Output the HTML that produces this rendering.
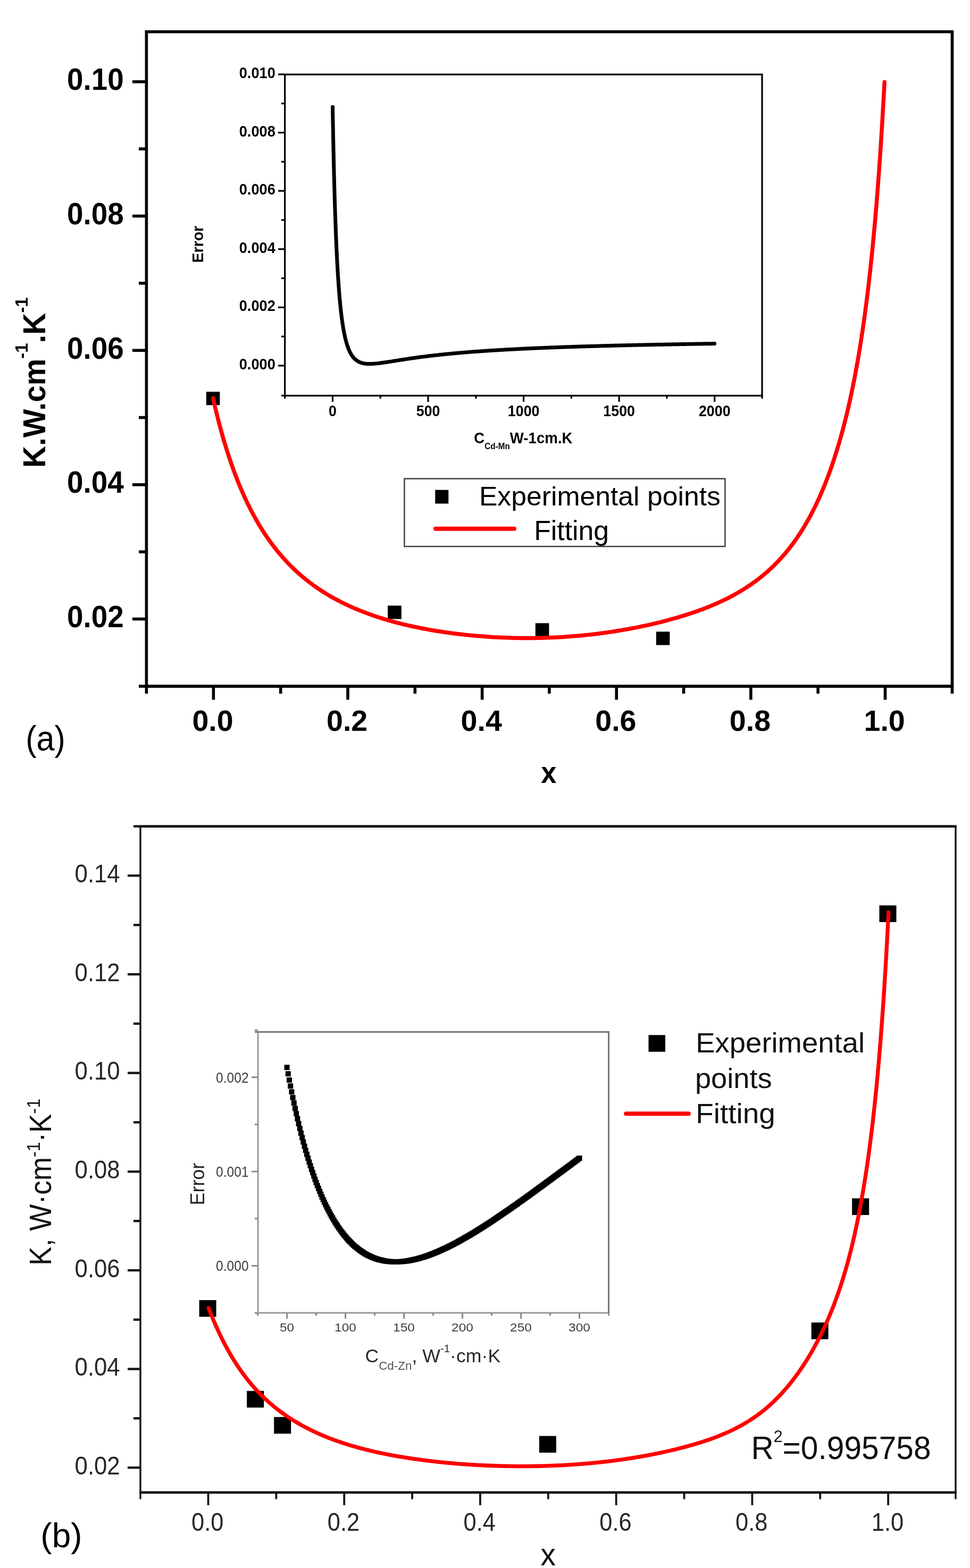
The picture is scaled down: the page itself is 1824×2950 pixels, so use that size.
<!DOCTYPE html>
<html><head><meta charset="utf-8"><title>Thermal conductivity fitting</title>
<style>html,body{margin:0;padding:0;background:#fff;overflow:hidden;}svg{display:block;}</style></head>
<body>
<svg width="1824" height="2950" viewBox="0 0 1824 2950">
<rect width="1824" height="2950" fill="#fff"/>
<g stroke="#000" stroke-width="5.6" fill="none">
<path d="M275.4 1291.1V59.8H1790.5V1291.1H275.4Z" stroke-linejoin="miter"/>
<path d="M249 153.8H275.4"/>
<path d="M249 406.5H275.4"/>
<path d="M249 659.2H275.4"/>
<path d="M249 911.9H275.4"/>
<path d="M249 1164.6H275.4"/>
<path d="M261 280.15H275.4"/>
<path d="M261 532.85H275.4"/>
<path d="M261 785.55H275.4"/>
<path d="M261 1038.25H275.4"/>
<path d="M261 1291.1H275.4"/>
<path d="M401.4 1291.1V1316.5"/>
<path d="M654.02 1291.1V1316.5"/>
<path d="M906.64 1291.1V1316.5"/>
<path d="M1159.26 1291.1V1316.5"/>
<path d="M1411.88 1291.1V1316.5"/>
<path d="M1664.5 1291.1V1316.5"/>
<path d="M527.71 1291.1V1305"/>
<path d="M780.33 1291.1V1305"/>
<path d="M1032.95 1291.1V1305"/>
<path d="M1285.57 1291.1V1305"/>
<path d="M1538.19 1291.1V1305"/>
<path d="M275.4 1291.1V1305"/><path d="M1790.5 1291.1V1305"/>
</g>
<g stroke="#000" stroke-width="3.2" fill="none">
<path d="M535.7 744.3V140.2H1433V744.3H535.7Z"/>
<path d="M523 687.9H535.7"/>
<path d="M523 578.3H535.7"/>
<path d="M523 468.7H535.7"/>
<path d="M523 359.1H535.7"/>
<path d="M523 249.5H535.7"/>
<path d="M523 139.9H535.7"/>
<path d="M529 633.1H535.7"/>
<path d="M529 523.5H535.7"/>
<path d="M529 413.9H535.7"/>
<path d="M529 304.3H535.7"/>
<path d="M529 194.7H535.7"/>
<path d="M529 744.3H535.7"/>
<path d="M625.5 744.3V756"/>
<path d="M805.05 744.3V756"/>
<path d="M984.6 744.3V756"/>
<path d="M1164.15 744.3V756"/>
<path d="M1343.7 744.3V756"/>
<path d="M715.27 744.3V750"/>
<path d="M894.83 744.3V750"/>
<path d="M1074.38 744.3V750"/>
<path d="M1253.92 744.3V750"/>
<path d="M535.7 744.3V750"/><path d="M1433 744.3V750"/>
</g>
<polyline points="625.5,201.35 625.59,206.58 625.68,211.73 625.77,216.81 625.86,221.82 625.95,226.76 626.04,231.64 626.13,236.45 626.22,241.19 626.31,245.88 626.4,250.49 626.49,255.05 626.58,259.55 626.67,263.99 626.76,268.37 626.85,272.69 626.94,276.96 627.03,281.17 627.12,285.32 627.21,289.43 627.3,293.48 627.39,297.47 627.48,301.42 627.56,305.32 627.65,309.16 627.74,312.96 627.83,316.71 627.92,320.41 628.01,324.07 628.1,327.68 628.19,331.25 628.28,334.77 628.37,338.25 628.46,341.68 628.55,345.08 628.64,348.43 628.73,351.74 628.82,355.01 628.91,358.24 629,361.43 629.09,364.59 629.18,367.7 629.27,370.78 629.36,373.82 629.45,376.83 629.54,379.8 629.63,382.73 629.72,385.63 629.81,388.5 629.9,391.33 629.99,394.13 630.08,396.9 630.17,399.63 630.26,402.33 630.35,405.01 630.44,407.65 630.53,410.26 630.62,412.84 630.71,415.39 630.8,417.91 630.89,420.41 630.98,422.87 631.07,425.31 631.16,427.72 631.25,430.1 631.34,432.46 631.43,434.79 631.51,437.1 631.6,439.38 631.69,441.63 631.78,443.86 631.87,446.06 631.96,448.24 632.05,450.4 632.14,452.53 632.23,454.64 632.32,456.73 632.41,458.79 632.5,460.84 632.59,462.86 632.68,464.85 632.86,468.79 633.22,476.43 633.58,483.75 633.94,490.77 634.3,497.5 634.66,503.96 635.02,510.16 635.38,516.12 635.74,521.84 636.1,527.34 636.46,532.62 636.82,537.71 637.18,542.6 637.54,547.3 637.9,551.83 638.26,556.19 638.62,560.39 638.98,564.44 639.34,568.34 639.7,572.1 640.06,575.73 640.42,579.23 640.78,582.6 641.14,585.86 641.5,589 641.86,592.04 642.22,594.97 642.58,597.8 642.94,600.53 643.3,603.18 643.66,605.73 644.02,608.2 644.38,610.59 644.74,612.9 645.11,615.13 645.47,617.29 645.83,619.38 646.19,621.4 646.55,623.36 646.91,625.26 647.27,627.09 647.63,628.87 647.99,630.59 648.35,632.26 648.71,633.88 649.07,635.44 649.43,636.96 649.79,638.43 650.15,639.85 650.51,641.24 650.87,642.58 651.23,643.87 651.59,645.13 651.95,646.35 652.31,647.54 652.67,648.69 653.03,649.8 653.39,650.89 653.75,651.94 654.11,652.95 654.47,653.94 654.83,654.9 655.19,655.83 655.55,656.74 655.91,657.61 656.27,658.46 656.63,659.29 656.99,660.09 657.35,660.87 657.71,661.63 658.07,662.37 658.43,663.08 658.79,663.77 659.15,664.44 659.51,665.1 659.87,665.73 660.23,666.35 660.59,666.95 660.95,667.53 661.31,668.09 661.67,668.64 662.03,669.17 662.39,669.69 662.75,670.19 663.11,670.68 663.47,671.15 663.83,671.61 664.19,672.06 664.55,672.5 664.91,672.92 665.27,673.33 665.63,673.72 665.99,674.11 666.35,674.48 666.71,674.85 667.07,675.2 667.43,675.54 667.79,675.88 668.15,676.2 668.51,676.51 668.87,676.82 669.23,677.11 669.59,677.4 669.95,677.67 670.31,677.94 670.67,678.21 671.03,678.46 671.39,678.7 671.75,678.94 672.11,679.17 672.47,679.4 672.83,679.61 673.19,679.82 673.55,680.03 673.91,680.23 674.27,680.42 674.63,680.6 674.99,680.78 675.35,680.95 675.71,681.12 676.07,681.28 676.43,681.44 676.79,681.59 677.15,681.74 677.51,681.88 677.87,682.01 678.23,682.15 678.59,682.27 678.95,682.4 679.31,682.51 679.67,682.63 680.04,682.74 680.4,682.84 680.76,682.94 681.12,683.04 681.48,683.14 681.84,683.23 682.2,683.31 682.56,683.4 682.92,683.48 683.28,683.55 683.64,683.63 684,683.7 684.36,683.76 684.72,683.83 685.08,683.89 685.44,683.95 685.8,684 686.16,684.05 686.52,684.1 686.88,684.15 687.24,684.19 687.6,684.23 687.96,684.27 688.32,684.31 688.68,684.35 689.04,684.38 689.4,684.41 689.76,684.44 690.12,684.46 690.48,684.49 690.84,684.51 691.2,684.53 691.56,684.54 691.92,684.56 692.28,684.57 692.64,684.59 693,684.6 693.36,684.61 693.72,684.61 694.08,684.62 694.44,684.62 694.8,684.62 695.16,684.62 695.52,684.62 695.88,684.62 696.24,684.62 696.6,684.61 696.96,684.61 697.32,684.6 699.12,684.54 700.91,684.45 702.71,684.34 704.5,684.2 706.3,684.05 708.09,683.87 709.89,683.68 711.68,683.48 713.48,683.26 715.27,683.04 717.07,682.8 718.87,682.55 720.66,682.3 722.46,682.04 724.25,681.78 726.05,681.51 727.84,681.24 729.64,680.96 731.43,680.68 733.23,680.4 735.03,680.12 736.82,679.83 738.62,679.55 740.41,679.26 742.21,678.98 744,678.69 745.8,678.41 747.59,678.12 749.39,677.84 751.19,677.56 752.98,677.28 754.78,677 756.57,676.72 758.37,676.44 760.16,676.17 761.96,675.89 763.75,675.62 765.55,675.35 767.34,675.08 769.14,674.82 770.94,674.55 772.73,674.29 774.53,674.03 776.32,673.78 778.12,673.52 779.91,673.27 781.71,673.02 783.5,672.77 785.3,672.53 787.1,672.29 788.89,672.05 790.69,671.81 792.48,671.57 794.28,671.34 796.07,671.11 797.87,670.88 799.66,670.65 801.46,670.43 803.25,670.2 805.05,669.98 806.85,669.77 808.64,669.55 810.44,669.34 812.23,669.13 814.03,668.92 815.82,668.71 817.62,668.51 819.41,668.31 821.21,668.11 823,667.91 824.8,667.71 826.6,667.52 828.39,667.32 830.19,667.13 831.98,666.95 833.78,666.76 835.57,666.58 837.37,666.39 839.16,666.21 840.96,666.03 842.76,665.86 844.55,665.68 846.35,665.51 848.14,665.34 849.94,665.17 851.73,665 853.53,664.83 855.32,664.67 857.12,664.5 858.91,664.34 860.71,664.18 862.51,664.02 864.3,663.87 866.1,663.71 867.89,663.56 869.69,663.41 871.48,663.26 873.28,663.11 875.07,662.96 876.87,662.81 878.67,662.67 880.46,662.52 882.26,662.38 884.05,662.24 885.85,662.1 887.64,661.96 889.44,661.83 891.23,661.69 893.03,661.56 894.83,661.43 896.62,661.29 898.42,661.16 900.21,661.03 902.01,660.91 903.8,660.78 905.6,660.65 907.39,660.53 909.19,660.41 910.98,660.28 912.78,660.16 914.58,660.04 916.37,659.92 918.17,659.81 919.96,659.69 921.76,659.57 923.55,659.46 925.35,659.35 927.14,659.23 928.94,659.12 930.74,659.01 932.53,658.9 934.33,658.79 936.12,658.68 937.92,658.58 939.71,658.47 941.51,658.37 943.3,658.26 945.1,658.16 946.89,658.06 948.69,657.95 950.49,657.85 952.28,657.75 954.08,657.65 955.87,657.56 957.67,657.46 959.46,657.36 961.26,657.27 963.05,657.17 964.85,657.08 966.64,656.98 968.44,656.89 970.24,656.8 972.03,656.71 973.83,656.62 975.62,656.53 977.42,656.44 979.21,656.35 981.01,656.26 982.8,656.18 984.6,656.09 986.4,656 988.19,655.92 989.99,655.84 991.78,655.75 993.58,655.67 995.37,655.59 997.17,655.5 998.96,655.42 1000.76,655.34 1002.56,655.26 1004.35,655.18 1006.15,655.11 1007.94,655.03 1009.74,654.95 1011.53,654.87 1013.33,654.8 1015.12,654.72 1016.92,654.65 1018.71,654.57 1020.51,654.5 1022.31,654.42 1024.1,654.35 1025.9,654.28 1027.69,654.21 1029.49,654.14 1031.28,654.07 1033.08,653.99 1034.87,653.92 1036.67,653.86 1038.46,653.79 1040.26,653.72 1042.06,653.65 1043.85,653.58 1045.65,653.52 1047.44,653.45 1049.24,653.38 1051.03,653.32 1052.83,653.25 1054.62,653.19 1056.42,653.12 1058.22,653.06 1060.01,653 1061.81,652.93 1063.6,652.87 1065.4,652.81 1067.19,652.75 1068.99,652.69 1070.78,652.63 1072.58,652.57 1074.38,652.51 1076.17,652.45 1077.97,652.39 1079.76,652.33 1081.56,652.27 1083.35,652.21 1085.15,652.15 1086.94,652.1 1088.74,652.04 1090.53,651.98 1092.33,651.93 1094.13,651.87 1095.92,651.82 1097.72,651.76 1099.51,651.71 1101.31,651.65 1103.1,651.6 1104.9,651.54 1106.69,651.49 1108.49,651.44 1110.29,651.39 1112.08,651.33 1113.88,651.28 1115.67,651.23 1117.47,651.18 1119.26,651.13 1121.06,651.08 1122.85,651.03 1124.65,650.98 1126.44,650.93 1128.24,650.88 1130.04,650.83 1131.83,650.78 1133.63,650.73 1135.42,650.68 1137.22,650.63 1139.01,650.59 1140.81,650.54 1142.6,650.49 1144.4,650.44 1146.2,650.4 1147.99,650.35 1149.79,650.31 1151.58,650.26 1153.38,650.21 1155.17,650.17 1156.97,650.12 1158.76,650.08 1160.56,650.03 1162.35,649.99 1164.15,649.95 1165.95,649.9 1167.74,649.86 1169.54,649.82 1171.33,649.77 1173.13,649.73 1174.92,649.69 1176.72,649.65 1178.51,649.6 1180.31,649.56 1182.11,649.52 1183.9,649.48 1185.7,649.44 1187.49,649.4 1189.29,649.36 1191.08,649.32 1192.88,649.28 1194.67,649.24 1196.47,649.2 1198.26,649.16 1200.06,649.12 1201.86,649.08 1203.65,649.04 1205.45,649 1207.24,648.96 1209.04,648.92 1210.83,648.89 1212.63,648.85 1214.42,648.81 1216.22,648.77 1218.01,648.74 1219.81,648.7 1221.61,648.66 1223.4,648.63 1225.2,648.59 1226.99,648.55 1228.79,648.52 1230.58,648.48 1232.38,648.44 1234.17,648.41 1235.97,648.37 1237.77,648.34 1239.56,648.3 1241.36,648.27 1243.15,648.23 1244.95,648.2 1246.74,648.17 1248.54,648.13 1250.33,648.1 1252.13,648.06 1253.92,648.03 1255.72,648 1257.52,647.96 1259.31,647.93 1261.11,647.9 1262.9,647.86 1264.7,647.83 1266.49,647.8 1268.29,647.77 1270.08,647.74 1271.88,647.7 1273.68,647.67 1275.47,647.64 1277.27,647.61 1279.06,647.58 1280.86,647.55 1282.65,647.52 1284.45,647.48 1286.24,647.45 1288.04,647.42 1289.84,647.39 1291.63,647.36 1293.43,647.33 1295.22,647.3 1297.02,647.27 1298.81,647.24 1300.61,647.21 1302.4,647.18 1304.2,647.15 1305.99,647.13 1307.79,647.1 1309.59,647.07 1311.38,647.04 1313.18,647.01 1314.97,646.98 1316.77,646.95 1318.56,646.93 1320.36,646.9 1322.15,646.87 1323.95,646.84 1325.74,646.81 1327.54,646.79 1329.34,646.76 1331.13,646.73 1332.93,646.7 1334.72,646.68 1336.52,646.65 1338.31,646.62 1340.11,646.6 1341.9,646.57 1343.7,646.54" fill="none" stroke="#000" stroke-width="7" stroke-linecap="round" stroke-linejoin="round"/>
<rect x="760.4" y="900.6" width="603" height="127.5" fill="none" stroke="#3a3a3a" stroke-width="2.4"/>
<rect x="818.3" y="921.7" width="25" height="25.8" fill="#000"/>
<path d="M819 994.7H967" stroke="#f00" stroke-width="8" stroke-linecap="round"/>
<rect x="387.8" y="737" width="25.6" height="25.2" fill="#000"/>
<rect x="729.2" y="1139.4" width="25.6" height="25.2" fill="#000"/>
<rect x="1006.8" y="1172.4" width="25.6" height="25.2" fill="#000"/>
<rect x="1233.8" y="1188.4" width="25.6" height="25.2" fill="#000"/>
<polyline points="400.6,749.1 400.76,749.79 402.46,757.29 404.16,764.6 405.85,771.73 407.55,778.68 409.24,785.46 410.92,792.08 412.61,798.55 414.29,804.86 415.97,811.02 417.64,817.04 419.32,822.93 420.99,828.68 422.66,834.31 424.32,839.81 425.99,845.19 427.65,850.45 429.3,855.61 430.96,860.65 432.61,865.59 434.26,870.42 435.91,875.16 437.56,879.8 439.2,884.35 440.84,888.8 442.48,893.17 444.12,897.46 445.75,901.66 447.38,905.78 449.01,909.82 450.64,913.78 452.27,917.68 453.89,921.5 455.52,925.24 457.14,928.93 458.76,932.54 460.37,936.09 461.99,939.58 463.6,943.01 465.21,946.37 466.82,949.68 468.43,952.93 470.04,956.13 471.65,959.28 473.25,962.37 474.85,965.41 476.46,968.4 478.06,971.34 479.66,974.23 481.25,977.08 482.85,979.88 484.44,982.64 486.04,985.36 487.63,988.03 489.22,990.66 490.82,993.25 492.41,995.8 494,998.32 495.58,1000.79 497.17,1003.23 498.76,1005.64 500.35,1008 501.93,1010.34 503.52,1012.64 505.1,1014.9 506.69,1017.14 508.27,1019.34 509.85,1021.51 511.43,1023.66 513.02,1025.77 514.6,1027.85 516.18,1029.91 517.76,1031.93 519.34,1033.93 520.92,1035.9 522.5,1037.85 524.08,1039.77 525.66,1041.66 527.24,1043.53 533.53,1050.73 539.81,1057.56 546.1,1064.06 552.39,1070.25 558.68,1076.14 564.98,1081.75 571.29,1087.1 577.61,1092.2 583.93,1097.08 590.26,1101.73 596.59,1106.18 602.92,1110.44 609.26,1114.52 615.6,1118.42 621.95,1122.16 628.29,1125.74 634.64,1129.17 641,1132.47 647.35,1135.63 653.71,1138.66 660.07,1141.57 666.43,1144.36 672.79,1147.05 679.15,1149.63 685.51,1152.11 691.87,1154.49 698.23,1156.78 704.6,1158.98 710.96,1161.09 717.33,1163.12 723.69,1165.08 730.05,1166.96 736.42,1168.77 742.78,1170.51 749.14,1172.18 755.51,1173.79 761.87,1175.33 768.23,1176.82 774.6,1178.24 780.96,1179.61 787.32,1180.93 793.68,1182.2 800.04,1183.41 806.4,1184.58 812.76,1185.7 819.12,1186.77 825.48,1187.8 831.84,1188.78 838.2,1189.72 844.56,1190.62 850.93,1191.47 857.29,1192.29 863.65,1193.06 870.01,1193.79 876.37,1194.48 882.73,1195.13 889.09,1195.75 895.45,1196.32 901.81,1196.86 908.17,1197.36 914.54,1197.82 920.9,1198.25 927.26,1198.64 933.62,1198.99 939.99,1199.3 946.35,1199.58 952.71,1199.82 959.07,1200.03 965.44,1200.2 971.8,1200.33 978.16,1200.42 984.52,1200.48 990.88,1200.5 997.25,1200.48 1003.61,1200.43 1009.97,1200.34 1016.33,1200.21 1022.69,1200.05 1029.05,1199.84 1035.4,1199.6 1041.76,1199.32 1048.12,1199 1054.47,1198.64 1060.83,1198.24 1067.18,1197.8 1073.53,1197.32 1079.88,1196.81 1086.23,1196.26 1092.58,1195.67 1098.92,1195.04 1105.27,1194.38 1111.61,1193.68 1117.95,1192.94 1124.29,1192.16 1130.63,1191.35 1136.97,1190.5 1143.3,1189.61 1149.64,1188.68 1155.97,1187.71 1162.31,1186.7 1168.64,1185.66 1174.97,1184.57 1181.3,1183.45 1187.63,1182.28 1193.96,1181.07 1200.29,1179.82 1206.62,1178.52 1212.94,1177.19 1219.27,1175.8 1225.6,1174.37 1231.93,1172.89 1238.27,1171.36 1244.6,1169.79 1250.93,1168.16 1257.27,1166.48 1263.61,1164.74 1269.96,1162.94 1276.3,1161.09 1282.65,1159.17 1289.01,1157.19 1295.37,1155.14 1301.74,1153.03 1308.12,1150.84 1314.5,1148.56 1320.89,1146.21 1327.28,1143.76 1333.68,1141.22 1340.09,1138.58 1346.51,1135.82 1352.93,1132.95 1359.36,1129.95 1365.79,1126.82 1372.22,1123.55 1378.66,1120.13 1385.11,1116.56 1391.56,1112.81 1398,1108.89 1404.45,1104.77 1410.9,1100.45 1417.34,1095.92 1423.79,1091.16 1430.22,1086.16 1436.65,1080.91 1443.07,1075.38 1449.48,1069.55 1455.87,1063.42 1462.25,1056.96 1468.61,1050.14 1474.95,1042.95 1475.9,1041.84 1476.85,1040.72 1477.79,1039.59 1478.74,1038.45 1479.68,1037.3 1480.63,1036.14 1481.57,1034.97 1482.52,1033.8 1483.46,1032.61 1484.4,1031.41 1485.35,1030.21 1486.29,1028.99 1487.23,1027.76 1488.17,1026.52 1489.11,1025.28 1490.05,1024.02 1490.99,1022.75 1491.93,1021.47 1492.87,1020.18 1493.81,1018.88 1494.75,1017.57 1495.69,1016.24 1496.63,1014.91 1497.56,1013.56 1498.5,1012.2 1499.44,1010.83 1500.37,1009.45 1501.31,1008.06 1502.25,1006.65 1503.18,1005.23 1504.12,1003.8 1505.05,1002.36 1505.99,1000.91 1506.92,999.44 1507.86,997.96 1508.79,996.46 1509.72,994.95 1510.66,993.43 1511.59,991.9 1512.52,990.35 1513.46,988.79 1514.39,987.21 1515.32,985.62 1516.26,984.01 1517.19,982.39 1518.12,980.76 1519.05,979.11 1519.99,977.44 1520.92,975.76 1521.85,974.06 1522.78,972.35 1523.71,970.62 1524.65,968.87 1525.58,967.11 1526.51,965.33 1527.44,963.53 1528.37,961.72 1529.31,959.89 1530.24,958.04 1531.17,956.17 1532.1,954.28 1533.04,952.38 1533.97,950.45 1534.9,948.51 1535.84,946.55 1536.77,944.57 1537.7,942.57 1538.64,940.54 1539.57,938.5 1540.5,936.44 1541.44,934.35 1542.37,932.24 1543.31,930.11 1544.24,927.96 1545.18,925.79 1546.12,923.59 1547.05,921.37 1547.99,919.12 1548.93,916.86 1549.86,914.56 1550.8,912.24 1551.74,909.9 1552.68,907.53 1553.62,905.13 1554.56,902.71 1555.5,900.26 1556.44,897.78 1557.38,895.28 1558.32,892.74 1559.26,890.18 1560.2,887.59 1561.15,884.97 1562.09,882.31 1563.03,879.63 1563.98,876.91 1564.93,874.16 1565.87,871.38 1566.82,868.57 1567.77,865.72 1568.71,862.83 1569.66,859.92 1570.61,856.96 1571.56,853.97 1572.51,850.94 1573.47,847.87 1574.42,844.77 1575.37,841.62 1576.33,838.44 1577.28,835.21 1578.24,831.95 1579.2,828.64 1580.15,825.28 1581.11,821.88 1582.07,818.44 1583.03,814.95 1583.99,811.41 1584.96,807.83 1585.92,804.2 1586.88,800.51 1587.85,796.78 1588.81,792.99 1589.77,789.15 1590.74,785.26 1591.71,781.31 1592.67,777.3 1593.64,773.23 1594.61,769.11 1595.58,764.93 1596.54,760.68 1597.51,756.37 1598.48,752 1599.45,747.56 1600.42,743.05 1601.39,738.47 1602.36,733.83 1603.33,729.11 1604.3,724.31 1605.27,719.44 1606.24,714.5 1607.22,709.47 1608.19,704.36 1609.16,699.17 1610.13,693.9 1611.1,688.53 1612.07,683.08 1613.04,677.53 1614.01,671.9 1614.99,666.16 1615.96,660.33 1616.93,654.39 1617.9,648.35 1618.87,642.2 1619.84,635.95 1620.81,629.58 1621.78,623.1 1622.75,616.49 1623.71,609.77 1624.68,602.92 1625.65,595.94 1626.62,588.82 1627.59,581.57 1628.55,574.18 1629.52,566.65 1630.48,558.97 1631.45,551.13 1632.41,543.14 1633.38,534.98 1634.34,526.66 1635.3,518.17 1636.26,509.49 1637.22,500.64 1638.18,491.59 1639.14,482.35 1640.1,472.91 1641.06,463.25 1642.01,453.39 1642.97,443.3 1643.92,432.98 1644.88,422.42 1645.83,411.61 1646.78,400.55 1647.73,389.23 1648.68,377.63 1649.63,365.75 1650.58,353.58 1651.52,341.09 1652.47,328.3 1653.41,315.17 1654.36,301.7 1655.3,287.88 1656.24,273.68 1657.17,259.1 1658.11,244.13 1659.05,228.73 1659.98,212.9 1660.91,196.62 1661.85,179.86 1662.78,162.61 1663.21,154.34" fill="none" stroke="#f00" stroke-width="7.5" stroke-linecap="round" stroke-linejoin="round"/>
<g stroke="#161616" fill="none">
<path d="M262.5 1554.6H1798.8M262.5 2807.9H1798.8" stroke-width="4.8"/>
<path d="M264 1554.6V2820.5M1797 1554.6V2820.5" stroke-width="3.4"/>
<g stroke-width="4.4">
<path d="M240 1647.4H264"/>
<path d="M240 1833.03H264"/>
<path d="M240 2018.67H264"/>
<path d="M240 2204.3H264"/>
<path d="M240 2389.94H264"/>
<path d="M240 2575.57H264"/>
<path d="M240 2761.2H264"/>
<path d="M251 1740.22H264"/>
<path d="M251 1925.85H264"/>
<path d="M251 2111.49H264"/>
<path d="M251 2297.12H264"/>
<path d="M251 2482.75H264"/>
<path d="M251 2668.39H264"/>
<path d="M251 1554.6H264"/>
</g><g stroke-width="3.8">
<path d="M391.5 2807.9V2832"/>
<path d="M647.22 2807.9V2832"/>
<path d="M902.94 2807.9V2832"/>
<path d="M1158.66 2807.9V2832"/>
<path d="M1414.38 2807.9V2832"/>
<path d="M1670.1 2807.9V2832"/>
<path d="M519.36 2807.9V2820.5"/>
<path d="M775.08 2807.9V2820.5"/>
<path d="M1030.8 2807.9V2820.5"/>
<path d="M1286.52 2807.9V2820.5"/>
<path d="M1542.24 2807.9V2820.5"/>
</g></g>
<g stroke="#8a8a8a" stroke-width="3" fill="none">
<path d="M485.1 2470V1941.5" stroke="#999"/><path d="M485.1 2470H1144.6" stroke="#999"/>
<path d="M479.2 1941.5H1144.6V2470" stroke="#777" stroke-linejoin="miter"/>
<path d="M473 2381.5H485.1"/>
<path d="M473 2204.1H485.1"/>
<path d="M473 2026.7H485.1"/>
<path d="M479 1938H485.1"/>
<path d="M479 2115.4H485.1"/>
<path d="M479 2292.8H485.1"/>
<path d="M479 2470.2H485.1"/>
<path d="M539.6 2470V2481"/>
<path d="M649.6 2470V2481"/>
<path d="M759.6 2470V2481"/>
<path d="M869.6 2470V2481"/>
<path d="M979.6 2470V2481"/>
<path d="M1089.6 2470V2481"/>
<path d="M484.6 2470V2475.5"/>
<path d="M594.6 2470V2475.5"/>
<path d="M704.6 2470V2475.5"/>
<path d="M814.6 2470V2475.5"/>
<path d="M924.6 2470V2475.5"/>
<path d="M1034.6 2470V2475.5"/>
<path d="M1144.6 2470V2475.5"/>
</g>
<path d="M534.6 2003.22h10v10h-10zM536.8 2015.24h10v10h-10zM539 2026.91h10v10h-10zM541.2 2038.25h10v10h-10zM543.4 2049.26h10v10h-10zM545.6 2059.95h10v10h-10zM547.8 2070.34h10v10h-10zM550 2080.43h10v10h-10zM552.2 2090.23h10v10h-10zM554.4 2099.75h10v10h-10zM556.6 2109h10v10h-10zM558.8 2117.99h10v10h-10zM561 2126.71h10v10h-10zM563.2 2135.19h10v10h-10zM565.4 2143.42h10v10h-10zM567.6 2151.42h10v10h-10zM569.8 2159.19h10v10h-10zM572 2166.73h10v10h-10zM574.2 2174.06h10v10h-10zM576.4 2181.17h10v10h-10zM578.6 2188.08h10v10h-10zM580.8 2194.79h10v10h-10zM583 2201.3h10v10h-10zM585.2 2207.62h10v10h-10zM587.4 2213.76h10v10h-10zM589.6 2219.72h10v10h-10zM591.8 2225.5h10v10h-10zM594 2231.12h10v10h-10zM596.2 2236.56h10v10h-10zM598.4 2241.85h10v10h-10zM600.6 2246.97h10v10h-10zM602.8 2251.94h10v10h-10zM605 2256.76h10v10h-10zM607.2 2261.44h10v10h-10zM609.4 2265.97h10v10h-10zM611.6 2270.36h10v10h-10zM613.8 2274.61h10v10h-10zM616 2278.74h10v10h-10zM618.2 2282.73h10v10h-10zM620.4 2286.6h10v10h-10zM622.6 2290.34h10v10h-10zM624.8 2293.97h10v10h-10zM627 2297.47h10v10h-10zM629.2 2300.86h10v10h-10zM631.4 2304.14h10v10h-10zM633.6 2307.31h10v10h-10zM635.8 2310.38h10v10h-10zM638 2313.34h10v10h-10zM640.2 2316.2h10v10h-10zM642.4 2318.95h10v10h-10zM644.6 2321.62h10v10h-10zM646.8 2324.18h10v10h-10zM649 2326.66h10v10h-10zM651.2 2329.04h10v10h-10zM653.4 2331.33h10v10h-10zM655.6 2333.54h10v10h-10zM657.8 2335.67h10v10h-10zM660 2337.71h10v10h-10zM662.2 2339.67h10v10h-10zM664.4 2341.55h10v10h-10zM666.6 2343.35h10v10h-10zM668.8 2345.08h10v10h-10zM671 2346.74h10v10h-10zM673.2 2348.32h10v10h-10zM675.4 2349.83h10v10h-10zM677.6 2351.28h10v10h-10zM679.8 2352.65h10v10h-10zM682 2353.96h10v10h-10zM684.2 2355.21h10v10h-10zM686.4 2356.39h10v10h-10zM688.6 2357.51h10v10h-10zM690.8 2358.57h10v10h-10zM693 2359.57h10v10h-10zM695.2 2360.52h10v10h-10zM697.4 2361.4h10v10h-10zM699.6 2362.24h10v10h-10zM701.8 2363.01h10v10h-10zM704 2363.74h10v10h-10zM706.2 2364.41h10v10h-10zM708.4 2365.03h10v10h-10zM710.6 2365.6h10v10h-10zM712.8 2366.12h10v10h-10zM715 2366.6h10v10h-10zM717.2 2367.03h10v10h-10zM719.4 2367.41h10v10h-10zM721.6 2367.75h10v10h-10zM723.8 2368.04h10v10h-10zM726 2368.29h10v10h-10zM728.2 2368.5h10v10h-10zM730.4 2368.67h10v10h-10zM732.6 2368.8h10v10h-10zM734.8 2368.89h10v10h-10zM737 2368.94h10v10h-10zM739.2 2368.95h10v10h-10zM741.4 2368.92h10v10h-10zM743.6 2368.86h10v10h-10zM745.8 2368.77h10v10h-10zM748 2368.64h10v10h-10zM750.2 2368.47h10v10h-10zM752.4 2368.27h10v10h-10zM754.6 2368.04h10v10h-10zM756.8 2367.78h10v10h-10zM759 2367.48h10v10h-10zM761.2 2367.16h10v10h-10zM763.4 2366.8h10v10h-10zM765.6 2366.42h10v10h-10zM767.8 2366h10v10h-10zM770 2365.56h10v10h-10zM772.2 2365.09h10v10h-10zM774.4 2364.6h10v10h-10zM776.6 2364.08h10v10h-10zM778.8 2363.53h10v10h-10zM781 2362.95h10v10h-10zM783.2 2362.35h10v10h-10zM785.4 2361.73h10v10h-10zM787.6 2361.08h10v10h-10zM789.8 2360.41h10v10h-10zM792 2359.72h10v10h-10zM794.2 2359h10v10h-10zM796.4 2358.26h10v10h-10zM798.6 2357.5h10v10h-10zM800.8 2356.72h10v10h-10zM803 2355.92h10v10h-10zM805.2 2355.1h10v10h-10zM807.4 2354.26h10v10h-10zM809.6 2353.4h10v10h-10zM811.8 2352.52h10v10h-10zM814 2351.62h10v10h-10zM816.2 2350.7h10v10h-10zM818.4 2349.77h10v10h-10zM820.6 2348.82h10v10h-10zM822.8 2347.85h10v10h-10zM825 2346.86h10v10h-10zM827.2 2345.86h10v10h-10zM829.4 2344.84h10v10h-10zM831.6 2343.8h10v10h-10zM833.8 2342.76h10v10h-10zM836 2341.69h10v10h-10zM838.2 2340.61h10v10h-10zM840.4 2339.52h10v10h-10zM842.6 2338.41h10v10h-10zM844.8 2337.29h10v10h-10zM847 2336.15h10v10h-10zM849.2 2335h10v10h-10zM851.4 2333.84h10v10h-10zM853.6 2332.66h10v10h-10zM855.8 2331.48h10v10h-10zM858 2330.28h10v10h-10zM860.2 2329.07h10v10h-10zM862.4 2327.84h10v10h-10zM864.6 2326.61h10v10h-10zM866.8 2325.36h10v10h-10zM869 2324.11h10v10h-10zM871.2 2322.84h10v10h-10zM873.4 2321.56h10v10h-10zM875.6 2320.27h10v10h-10zM877.8 2318.97h10v10h-10zM880 2317.67h10v10h-10zM882.2 2316.35h10v10h-10zM884.4 2315.02h10v10h-10zM886.6 2313.69h10v10h-10zM888.8 2312.34h10v10h-10zM891 2310.99h10v10h-10zM893.2 2309.62h10v10h-10zM895.4 2308.25h10v10h-10zM897.6 2306.88h10v10h-10zM899.8 2305.49h10v10h-10zM902 2304.09h10v10h-10zM904.2 2302.69h10v10h-10zM906.4 2301.28h10v10h-10zM908.6 2299.86h10v10h-10zM910.8 2298.44h10v10h-10zM913 2297.01h10v10h-10zM915.2 2295.57h10v10h-10zM917.4 2294.13h10v10h-10zM919.6 2292.68h10v10h-10zM921.8 2291.22h10v10h-10zM924 2289.76h10v10h-10zM926.2 2288.29h10v10h-10zM928.4 2286.81h10v10h-10zM930.6 2285.33h10v10h-10zM932.8 2283.84h10v10h-10zM935 2282.35h10v10h-10zM937.2 2280.86h10v10h-10zM939.4 2279.35h10v10h-10zM941.6 2277.85h10v10h-10zM943.8 2276.33h10v10h-10zM946 2274.82h10v10h-10zM948.2 2273.3h10v10h-10zM950.4 2271.77h10v10h-10zM952.6 2270.24h10v10h-10zM954.8 2268.71h10v10h-10zM957 2267.17h10v10h-10zM959.2 2265.62h10v10h-10zM961.4 2264.08h10v10h-10zM963.6 2262.53h10v10h-10zM965.8 2260.97h10v10h-10zM968 2259.41h10v10h-10zM970.2 2257.85h10v10h-10zM972.4 2256.29h10v10h-10zM974.6 2254.72h10v10h-10zM976.8 2253.15h10v10h-10zM979 2251.58h10v10h-10zM981.2 2250h10v10h-10zM983.4 2248.42h10v10h-10zM985.6 2246.84h10v10h-10zM987.8 2245.25h10v10h-10zM990 2243.66h10v10h-10zM992.2 2242.07h10v10h-10zM994.4 2240.48h10v10h-10zM996.6 2238.88h10v10h-10zM998.8 2237.28h10v10h-10zM1001 2235.68h10v10h-10zM1003.2 2234.08h10v10h-10zM1005.4 2232.48h10v10h-10zM1007.6 2230.87h10v10h-10zM1009.8 2229.26h10v10h-10zM1012 2227.65h10v10h-10zM1014.2 2226.04h10v10h-10zM1016.4 2224.43h10v10h-10zM1018.6 2222.82h10v10h-10zM1020.8 2221.2h10v10h-10zM1023 2219.58h10v10h-10zM1025.2 2217.96h10v10h-10zM1027.4 2216.34h10v10h-10zM1029.6 2214.72h10v10h-10zM1031.8 2213.1h10v10h-10zM1034 2211.47h10v10h-10zM1036.2 2209.85h10v10h-10zM1038.4 2208.22h10v10h-10zM1040.6 2206.6h10v10h-10zM1042.8 2204.97h10v10h-10zM1045 2203.34h10v10h-10zM1047.2 2201.71h10v10h-10zM1049.4 2200.08h10v10h-10zM1051.6 2198.45h10v10h-10zM1053.8 2196.82h10v10h-10zM1056 2195.19h10v10h-10zM1058.2 2193.56h10v10h-10zM1060.4 2191.92h10v10h-10zM1062.6 2190.29h10v10h-10zM1064.8 2188.66h10v10h-10zM1067 2187.02h10v10h-10zM1069.2 2185.39h10v10h-10zM1071.4 2183.76h10v10h-10zM1073.6 2182.12h10v10h-10zM1075.8 2180.49h10v10h-10zM1078 2178.85h10v10h-10zM1080.2 2177.22h10v10h-10zM1082.4 2175.59h10v10h-10zM1084.6 2173.95h10v10h-10z" fill="#000"/>
<rect x="1219.5" y="1947.3" width="31.5" height="31.5" fill="#000"/>
<path d="M1177.2 2095.3H1294.9" stroke="#f00" stroke-width="8" stroke-linecap="round"/>
<rect x="374.6" y="2446" width="32" height="31.4" fill="#000"/>
<rect x="464.2" y="2616.8" width="32" height="31.4" fill="#000"/>
<rect x="515.2" y="2665.9" width="32" height="31.4" fill="#000"/>
<rect x="1013.9" y="2701.6" width="32" height="31.4" fill="#000"/>
<rect x="1525.7" y="2488.1" width="32" height="31.4" fill="#000"/>
<rect x="1602.2" y="2254.5" width="32" height="31.4" fill="#000"/>
<rect x="1653.5" y="1703.4" width="32" height="31.4" fill="#000"/>
<polyline points="392.2,2460.89 393.66,2464.65 395.31,2468.84 396.95,2472.95 398.59,2476.98 400.22,2480.92 401.86,2484.8 403.48,2488.59 405.11,2492.32 406.73,2495.97 408.34,2499.56 409.96,2503.08 411.57,2506.54 413.18,2509.94 414.78,2513.27 416.38,2516.55 417.98,2519.77 419.58,2522.93 421.17,2526.04 422.76,2529.1 424.35,2532.1 425.94,2535.06 427.53,2537.96 429.11,2540.82 430.7,2543.63 432.28,2546.4 433.86,2549.12 435.44,2551.8 437.02,2554.44 438.6,2557.03 440.18,2559.59 441.76,2562.1 443.34,2564.58 444.91,2567.02 446.49,2569.42 448.07,2571.79 449.65,2574.12 451.22,2576.42 452.8,2578.68 454.38,2580.91 455.96,2583.1 457.54,2585.27 459.12,2587.4 460.7,2589.5 462.28,2591.58 463.87,2593.62 465.45,2595.63 467.04,2597.62 468.62,2599.57 470.21,2601.5 471.8,2603.4 473.39,2605.28 474.98,2607.13 476.58,2608.95 478.17,2610.75 479.76,2612.52 481.36,2614.27 482.95,2616 484.55,2617.7 486.15,2619.38 487.75,2621.04 489.35,2622.68 490.95,2624.29 492.55,2625.88 494.15,2627.45 495.76,2629.01 497.36,2630.54 498.97,2632.05 500.57,2633.54 502.18,2635.01 503.79,2636.47 505.4,2637.9 507,2639.32 508.61,2640.72 510.22,2642.1 511.84,2643.47 513.45,2644.82 515.06,2646.15 516.67,2647.46 518.29,2648.76 524.71,2653.76 531.14,2658.53 537.57,2663.08 544.02,2667.41 550.47,2671.54 556.92,2675.49 563.38,2679.25 569.84,2682.85 576.31,2686.29 582.77,2689.58 589.24,2692.73 595.71,2695.74 602.18,2698.62 608.65,2701.38 615.13,2704.03 621.6,2706.56 628.07,2708.98 634.54,2711.31 641.01,2713.54 647.47,2715.68 653.94,2717.73 660.41,2719.7 666.87,2721.59 673.33,2723.4 679.79,2725.14 686.25,2726.81 692.71,2728.41 699.16,2729.96 705.62,2731.44 712.07,2732.86 718.52,2734.23 724.96,2735.54 731.41,2736.81 737.85,2738.03 744.29,2739.2 750.74,2740.32 757.17,2741.41 763.61,2742.45 770.05,2743.45 776.48,2744.41 782.92,2745.34 789.35,2746.22 795.78,2747.08 802.21,2747.89 808.64,2748.67 815.07,2749.42 821.5,2750.14 827.93,2750.82 834.36,2751.47 840.78,2752.09 847.21,2752.68 853.64,2753.24 860.06,2753.77 866.49,2754.27 872.92,2754.75 879.34,2755.19 885.77,2755.61 892.19,2755.99 898.62,2756.35 905.05,2756.69 911.47,2756.99 917.9,2757.27 924.32,2757.52 930.75,2757.75 937.18,2757.95 943.6,2758.12 950.03,2758.26 956.46,2758.38 962.88,2758.47 969.31,2758.54 975.74,2758.58 982.16,2758.59 988.59,2758.57 995.02,2758.53 1001.45,2758.46 1007.87,2758.36 1014.3,2758.24 1020.73,2758.09 1027.16,2757.91 1033.59,2757.7 1040.01,2757.46 1046.44,2757.19 1052.87,2756.9 1059.3,2756.57 1065.73,2756.21 1072.16,2755.83 1078.59,2755.41 1085.01,2754.96 1091.44,2754.48 1097.87,2753.96 1104.3,2753.42 1110.73,2752.83 1117.16,2752.22 1123.58,2751.57 1130.01,2750.89 1136.44,2750.17 1142.87,2749.42 1149.3,2748.64 1155.72,2747.82 1162.15,2746.97 1168.58,2746.08 1175.01,2745.15 1181.44,2744.19 1187.88,2743.19 1194.31,2742.16 1200.74,2741.09 1207.18,2739.97 1213.62,2738.82 1220.06,2737.62 1226.5,2736.39 1232.95,2735.11 1239.39,2733.78 1245.85,2732.41 1252.3,2731 1258.76,2729.53 1265.23,2728.01 1271.7,2726.45 1278.17,2724.82 1284.66,2723.14 1291.15,2721.4 1297.64,2719.6 1304.15,2717.73 1310.67,2715.79 1317.19,2713.78 1323.72,2711.69 1330.26,2709.5 1336.81,2707.22 1343.36,2704.83 1349.92,2702.32 1356.47,2699.69 1363.03,2696.92 1369.59,2694.01 1376.14,2690.95 1382.68,2687.73 1389.22,2684.34 1395.74,2680.76 1402.25,2676.99 1408.73,2673.01 1415.2,2668.81 1421.63,2664.38 1428.03,2659.72 1434.39,2654.79 1440.71,2649.6 1446.99,2644.14 1453.24,2638.4 1459.45,2632.37 1465.64,2626.05 1471.8,2619.41 1477.94,2612.44 1478.86,2611.37 1479.78,2610.29 1480.7,2609.2 1481.61,2608.1 1482.53,2606.99 1483.45,2605.88 1484.37,2604.76 1485.28,2603.63 1486.2,2602.49 1487.12,2601.34 1488.04,2600.19 1488.95,2599.02 1489.87,2597.85 1490.79,2596.67 1491.7,2595.47 1492.62,2594.27 1493.54,2593.06 1494.46,2591.84 1495.37,2590.61 1496.29,2589.38 1497.21,2588.13 1498.13,2586.87 1499.05,2585.6 1499.97,2584.32 1500.89,2583.04 1501.81,2581.74 1502.73,2580.43 1503.65,2579.11 1504.57,2577.78 1505.49,2576.44 1506.41,2575.09 1507.33,2573.72 1508.26,2572.35 1509.18,2570.96 1510.1,2569.57 1511.03,2568.16 1511.95,2566.73 1512.88,2565.3 1513.81,2563.86 1514.74,2562.4 1515.67,2560.93 1516.59,2559.44 1517.53,2557.95 1518.46,2556.44 1519.39,2554.91 1520.32,2553.38 1521.26,2551.83 1522.19,2550.26 1523.13,2548.68 1524.07,2547.09 1525.01,2545.48 1525.95,2543.86 1526.89,2542.22 1527.83,2540.57 1528.78,2538.9 1529.72,2537.21 1530.67,2535.51 1531.62,2533.8 1532.57,2532.06 1533.52,2530.31 1534.47,2528.54 1535.43,2526.76 1536.39,2524.96 1537.34,2523.14 1538.3,2521.3 1539.27,2519.44 1540.23,2517.56 1541.19,2515.67 1542.16,2513.75 1543.13,2511.81 1544.1,2509.86 1545.07,2507.88 1546.04,2505.88 1547.01,2503.86 1547.99,2501.82 1548.97,2499.76 1549.94,2497.67 1550.92,2495.56 1551.9,2493.43 1552.89,2491.27 1553.87,2489.09 1554.85,2486.88 1555.84,2484.65 1556.83,2482.39 1557.82,2480.11 1558.81,2477.8 1559.8,2475.46 1560.79,2473.09 1561.78,2470.7 1562.78,2468.28 1563.77,2465.82 1564.77,2463.34 1565.76,2460.83 1566.76,2458.29 1567.76,2455.71 1568.76,2453.11 1569.76,2450.47 1570.76,2447.79 1571.76,2445.09 1572.76,2442.34 1573.77,2439.57 1574.77,2436.75 1575.78,2433.9 1576.78,2431.02 1577.79,2428.09 1578.79,2425.13 1579.8,2422.12 1580.81,2419.08 1581.81,2415.99 1582.82,2412.86 1583.83,2409.69 1584.84,2406.48 1585.85,2403.22 1586.86,2399.91 1587.87,2396.56 1588.87,2393.16 1589.88,2389.71 1590.89,2386.21 1591.9,2382.67 1592.91,2379.07 1593.92,2375.41 1594.93,2371.71 1595.94,2367.94 1596.95,2364.12 1597.96,2360.25 1598.97,2356.31 1599.98,2352.32 1600.98,2348.26 1601.99,2344.14 1603,2339.96 1604.01,2335.71 1605.01,2331.39 1606.02,2327 1607.03,2322.54 1608.03,2318.01 1609.04,2313.41 1610.05,2308.73 1611.05,2303.97 1612.06,2299.14 1613.06,2294.22 1614.06,2289.22 1615.07,2284.13 1616.07,2278.95 1617.07,2273.69 1618.07,2268.33 1619.07,2262.87 1620.07,2257.32 1621.07,2251.67 1622.07,2245.92 1623.07,2240.06 1624.07,2234.09 1625.07,2228.01 1626.06,2221.82 1627.06,2215.51 1628.05,2209.08 1629.05,2202.52 1630.04,2195.84 1631.03,2189.02 1632.02,2182.07 1633.01,2174.98 1634,2167.74 1634.99,2160.36 1635.98,2152.82 1636.97,2145.13 1637.95,2137.27 1638.94,2129.24 1639.92,2121.04 1640.91,2112.67 1641.89,2104.11 1642.87,2095.35 1643.85,2086.4 1644.83,2077.25 1645.81,2067.88 1646.78,2058.3 1647.76,2048.49 1648.73,2038.45 1649.71,2028.16 1650.68,2017.62 1651.65,2006.83 1652.62,1995.76 1653.59,1984.41 1654.55,1972.77 1655.52,1960.83 1656.48,1948.57 1657.45,1935.99 1658.41,1923.06 1659.37,1909.78 1660.33,1896.14 1661.28,1882.1 1662.24,1867.67 1663.19,1852.82 1664.15,1837.53 1665.1,1821.79 1666.05,1805.57 1667,1788.85 1667.95,1771.61 1668.89,1753.82 1669.83,1735.46 1670.78,1716.49" fill="none" stroke="#f00" stroke-width="7.3" stroke-linecap="round" stroke-linejoin="round"/>
<text id="ayl_0_10" transform="translate(232.7 169.13) scale(0.9963 1.0306)" font-family="Liberation Sans, Arial, sans-serif" font-size="55" font-weight="bold" fill="#000" text-anchor="end">0.10</text>
<text id="ayl_0_08" transform="translate(232.7 421.83) scale(0.9963 1.0306)" font-family="Liberation Sans, Arial, sans-serif" font-size="55" font-weight="bold" fill="#000" text-anchor="end">0.08</text>
<text id="ayl_0_06" transform="translate(232.7 674.53) scale(0.9963 1.0306)" font-family="Liberation Sans, Arial, sans-serif" font-size="55" font-weight="bold" fill="#000" text-anchor="end">0.06</text>
<text id="ayl_0_04" transform="translate(232.7 927.23) scale(0.9963 1.0306)" font-family="Liberation Sans, Arial, sans-serif" font-size="55" font-weight="bold" fill="#000" text-anchor="end">0.04</text>
<text id="ayl_0_02" transform="translate(232.7 1179.93) scale(0.9963 1.0306)" font-family="Liberation Sans, Arial, sans-serif" font-size="55" font-weight="bold" fill="#000" text-anchor="end">0.02</text>
<text id="axl_0_0" transform="translate(400.03 1374.67) scale(1.0112 1.0166)" font-family="Liberation Sans, Arial, sans-serif" font-size="55" font-weight="bold" fill="#000" text-anchor="middle">0.0</text>
<text id="axl_0_2" transform="translate(652.65 1374.67) scale(1.0112 1.0166)" font-family="Liberation Sans, Arial, sans-serif" font-size="55" font-weight="bold" fill="#000" text-anchor="middle">0.2</text>
<text id="axl_0_4" transform="translate(905.27 1374.67) scale(1.0112 1.0166)" font-family="Liberation Sans, Arial, sans-serif" font-size="55" font-weight="bold" fill="#000" text-anchor="middle">0.4</text>
<text id="axl_0_6" transform="translate(1157.89 1374.67) scale(1.0112 1.0166)" font-family="Liberation Sans, Arial, sans-serif" font-size="55" font-weight="bold" fill="#000" text-anchor="middle">0.6</text>
<text id="axl_0_8" transform="translate(1410.51 1374.67) scale(1.0112 1.0166)" font-family="Liberation Sans, Arial, sans-serif" font-size="55" font-weight="bold" fill="#000" text-anchor="middle">0.8</text>
<text id="axl_1_0" transform="translate(1663.13 1374.67) scale(1.0112 1.0166)" font-family="Liberation Sans, Arial, sans-serif" font-size="55" font-weight="bold" fill="#000" text-anchor="middle">1.0</text>
<text id="ax" transform="translate(1031.93 1472.62) scale(0.9204 0.9936)" font-family="Liberation Sans, Arial, sans-serif" font-size="57" font-weight="bold" fill="#000" text-anchor="middle">x</text>
<text id="ayt" transform="translate(84.64 879.99) rotate(-90) scale(0.9971 1.0290)" font-family="Liberation Sans, Arial, sans-serif" font-size="57" font-weight="bold" fill="#000">K.W.cm<tspan dy="-32" font-size="33">-1</tspan><tspan dy="32">.K</tspan><tspan dy="-32" font-size="33">-1</tspan></text>
<text id="alab" transform="translate(48.13 1412.03) scale(0.9553 1.0311)" font-family="Liberation Sans, Arial, sans-serif" font-size="64" fill="#000">(a)</text>
<text id="aiyl_0_000" transform="translate(517.88 694.98) scale(0.9733 1.0624)" font-family="Liberation Sans, Arial, sans-serif" font-size="28" font-weight="bold" fill="#000" text-anchor="end">0.000</text>
<text id="aiyl_0_002" transform="translate(517.88 585.38) scale(0.9733 1.0624)" font-family="Liberation Sans, Arial, sans-serif" font-size="28" font-weight="bold" fill="#000" text-anchor="end">0.002</text>
<text id="aiyl_0_004" transform="translate(517.88 475.78) scale(0.9733 1.0624)" font-family="Liberation Sans, Arial, sans-serif" font-size="28" font-weight="bold" fill="#000" text-anchor="end">0.004</text>
<text id="aiyl_0_006" transform="translate(517.88 366.18) scale(0.9733 1.0624)" font-family="Liberation Sans, Arial, sans-serif" font-size="28" font-weight="bold" fill="#000" text-anchor="end">0.006</text>
<text id="aiyl_0_008" transform="translate(517.88 256.58) scale(0.9733 1.0624)" font-family="Liberation Sans, Arial, sans-serif" font-size="28" font-weight="bold" fill="#000" text-anchor="end">0.008</text>
<text id="aiyl_0_010" transform="translate(517.88 146.98) scale(0.9733 1.0624)" font-family="Liberation Sans, Arial, sans-serif" font-size="28" font-weight="bold" fill="#000" text-anchor="end">0.010</text>
<text id="aixl_0" transform="translate(625.54 783.33) scale(0.9585 1.0303)" font-family="Liberation Sans, Arial, sans-serif" font-size="28" font-weight="bold" fill="#000" text-anchor="middle">0</text>
<text id="aixl_500" transform="translate(805.09 783.33) scale(0.9585 1.0303)" font-family="Liberation Sans, Arial, sans-serif" font-size="28" font-weight="bold" fill="#000" text-anchor="middle">500</text>
<text id="aixl_1000" transform="translate(984.64 783.33) scale(0.9585 1.0303)" font-family="Liberation Sans, Arial, sans-serif" font-size="28" font-weight="bold" fill="#000" text-anchor="middle">1000</text>
<text id="aixl_1500" transform="translate(1164.19 783.33) scale(0.9585 1.0303)" font-family="Liberation Sans, Arial, sans-serif" font-size="28" font-weight="bold" fill="#000" text-anchor="middle">1500</text>
<text id="aixl_2000" transform="translate(1343.74 783.33) scale(0.9585 1.0303)" font-family="Liberation Sans, Arial, sans-serif" font-size="28" font-weight="bold" fill="#000" text-anchor="middle">2000</text>
<text id="aierr" transform="translate(381.55 459.69) rotate(-90) scale(1.0028 1.0430)" font-family="Liberation Sans, Arial, sans-serif" font-size="28.5" font-weight="bold" fill="#000" text-anchor="middle">Error</text>
<text id="aitit" transform="translate(891.23 833.85) scale(0.9878 1.0378)" font-family="Liberation Sans, Arial, sans-serif" font-size="28" font-weight="bold" fill="#000">C<tspan font-size="15.5" dy="10.4">Cd-Mn</tspan><tspan dy="-10.4">W-1cm.K</tspan></text>
<text id="aleg1" transform="translate(900.88 951.42) scale(0.9947 0.9724)" font-family="Liberation Sans, Arial, sans-serif" font-size="52" fill="#000">Experimental points</text>
<text id="aleg2" transform="translate(1004.14 1015.58) scale(0.9964 0.9815)" font-family="Liberation Sans, Arial, sans-serif" font-size="52" fill="#000">Fitting</text>
<text id="byl_0_14" transform="translate(225.62 1660.01) scale(0.9297 1.0256)" font-family="Liberation Sans, Arial, sans-serif" font-size="47" fill="#262626" text-anchor="end">0.14</text>
<text id="byl_0_12" transform="translate(225.62 1845.64) scale(0.9297 1.0256)" font-family="Liberation Sans, Arial, sans-serif" font-size="47" fill="#262626" text-anchor="end">0.12</text>
<text id="byl_0_10" transform="translate(225.62 2031.27) scale(0.9297 1.0256)" font-family="Liberation Sans, Arial, sans-serif" font-size="47" fill="#262626" text-anchor="end">0.10</text>
<text id="byl_0_08" transform="translate(225.62 2216.91) scale(0.9297 1.0256)" font-family="Liberation Sans, Arial, sans-serif" font-size="47" fill="#262626" text-anchor="end">0.08</text>
<text id="byl_0_06" transform="translate(225.62 2402.54) scale(0.9297 1.0256)" font-family="Liberation Sans, Arial, sans-serif" font-size="47" fill="#262626" text-anchor="end">0.06</text>
<text id="byl_0_04" transform="translate(225.62 2588.18) scale(0.9297 1.0256)" font-family="Liberation Sans, Arial, sans-serif" font-size="47" fill="#262626" text-anchor="end">0.04</text>
<text id="byl_0_02" transform="translate(225.62 2773.81) scale(0.9297 1.0256)" font-family="Liberation Sans, Arial, sans-serif" font-size="47" fill="#262626" text-anchor="end">0.02</text>
<text id="bxl_0_0" transform="translate(390.31 2880.07) scale(0.9247 1.0175)" font-family="Liberation Sans, Arial, sans-serif" font-size="47" fill="#262626" text-anchor="middle">0.0</text>
<text id="bxl_0_2" transform="translate(646.03 2880.07) scale(0.9247 1.0175)" font-family="Liberation Sans, Arial, sans-serif" font-size="47" fill="#262626" text-anchor="middle">0.2</text>
<text id="bxl_0_4" transform="translate(901.75 2880.07) scale(0.9247 1.0175)" font-family="Liberation Sans, Arial, sans-serif" font-size="47" fill="#262626" text-anchor="middle">0.4</text>
<text id="bxl_0_6" transform="translate(1157.47 2880.07) scale(0.9247 1.0175)" font-family="Liberation Sans, Arial, sans-serif" font-size="47" fill="#262626" text-anchor="middle">0.6</text>
<text id="bxl_0_8" transform="translate(1413.19 2880.07) scale(0.9247 1.0175)" font-family="Liberation Sans, Arial, sans-serif" font-size="47" fill="#262626" text-anchor="middle">0.8</text>
<text id="bxl_1_0" transform="translate(1668.91 2880.07) scale(0.9247 1.0175)" font-family="Liberation Sans, Arial, sans-serif" font-size="47" fill="#262626" text-anchor="middle">1.0</text>
<text id="bx" transform="translate(1030.8 2945.39) scale(0.9790 1.0312)" font-family="Liberation Sans, Arial, sans-serif" font-size="58" fill="#111" text-anchor="middle">x</text>
<text id="byt" transform="translate(96.06 2380.68) rotate(-90) scale(0.9666 1.0414)" font-family="Liberation Sans, Arial, sans-serif" font-size="55" fill="#111">K, W·cm<tspan dy="-20" font-size="33">-1</tspan><tspan dy="20">·K</tspan><tspan dy="-20" font-size="33">-1</tspan></text>
<text id="blab" transform="translate(76.37 2911.24) scale(0.9993 1.0231)" font-family="Liberation Sans, Arial, sans-serif" font-size="64" fill="#000">(b)</text>
<text id="br2" transform="translate(1412.38 2745.43) scale(0.9464 0.9949)" font-family="Liberation Sans, Arial, sans-serif" font-size="62" fill="#111">R<tspan dy="-33" font-size="32">2</tspan><tspan dy="33">=0.995758</tspan></text>
<text id="bleg1" transform="translate(1308.27 1980.29) scale(1.0087 0.9523)" font-family="Liberation Sans, Arial, sans-serif" font-size="54" fill="#111">Experimental</text>
<text id="bleg2" transform="translate(1306.92 2046.52) scale(1.0043 0.9679)" font-family="Liberation Sans, Arial, sans-serif" font-size="54" fill="#111">points</text>
<text id="bleg3" transform="translate(1308.14 2112.64) scale(1.0184 0.9442)" font-family="Liberation Sans, Arial, sans-serif" font-size="54" fill="#111">Fitting</text>
<text id="biyl_0_000" transform="translate(467.59 2391.31) scale(1.0043 1.1552)" font-family="Liberation Sans, Arial, sans-serif" font-size="24.5" fill="#3c3c3c" text-anchor="end">0.000</text>
<text id="biyl_0_001" transform="translate(467.59 2213.91) scale(1.0043 1.1552)" font-family="Liberation Sans, Arial, sans-serif" font-size="24.5" fill="#3c3c3c" text-anchor="end">0.001</text>
<text id="biyl_0_002" transform="translate(467.59 2036.51) scale(1.0043 1.1552)" font-family="Liberation Sans, Arial, sans-serif" font-size="24.5" fill="#3c3c3c" text-anchor="end">0.002</text>
<text id="bixl_50" transform="translate(539.53 2504.72) scale(1.0001 0.9274)" font-family="Liberation Sans, Arial, sans-serif" font-size="24.5" fill="#3c3c3c" text-anchor="middle">50</text>
<text id="bixl_100" transform="translate(649.53 2504.72) scale(1.0001 0.9274)" font-family="Liberation Sans, Arial, sans-serif" font-size="24.5" fill="#3c3c3c" text-anchor="middle">100</text>
<text id="bixl_150" transform="translate(759.53 2504.72) scale(1.0001 0.9274)" font-family="Liberation Sans, Arial, sans-serif" font-size="24.5" fill="#3c3c3c" text-anchor="middle">150</text>
<text id="bixl_200" transform="translate(869.53 2504.72) scale(1.0001 0.9274)" font-family="Liberation Sans, Arial, sans-serif" font-size="24.5" fill="#3c3c3c" text-anchor="middle">200</text>
<text id="bixl_250" transform="translate(979.53 2504.72) scale(1.0001 0.9274)" font-family="Liberation Sans, Arial, sans-serif" font-size="24.5" fill="#3c3c3c" text-anchor="middle">250</text>
<text id="bixl_300" transform="translate(1089.53 2504.72) scale(1.0001 0.9274)" font-family="Liberation Sans, Arial, sans-serif" font-size="24.5" fill="#3c3c3c" text-anchor="middle">300</text>
<text id="bierr" transform="translate(383.59 2227.64) rotate(-90) scale(1.0078 1.0267)" font-family="Liberation Sans, Arial, sans-serif" font-size="35.5" fill="#222" text-anchor="middle">Error</text>
<text id="bitit" transform="translate(686.41 2563.14) scale(1.0197 0.9822)" font-family="Liberation Sans, Arial, sans-serif" font-size="35" fill="#2a2a2a">C<tspan font-size="22" dy="14.5" fill="#555">Cd-Zn</tspan><tspan dy="-14.5">, W</tspan><tspan font-size="20" dy="-19">-1</tspan><tspan dy="19">·cm·K</tspan></text>
</svg>
</body></html>
